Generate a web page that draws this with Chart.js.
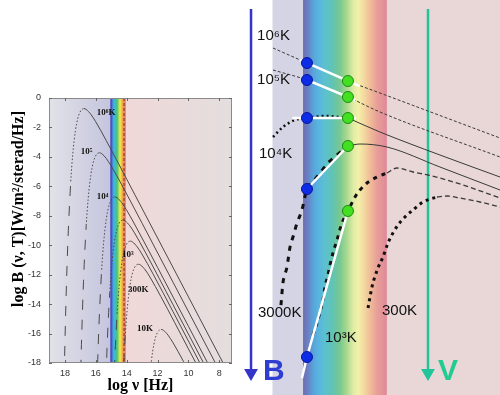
<!DOCTYPE html>
<html>
<head>
<meta charset="utf-8">
<script src="https://cdn.jsdelivr.net/npm/chart.js@4.4.1/dist/chart.umd.min.js"></script>
<style>
body { margin: 0; background: #fff; width: 500px; height: 395px; overflow: hidden; position: relative; }
canvas { position: absolute; top: 0; }
#left { left: 0; }
#right { left: 240px; }
</style>
</head>
<body>
<canvas id="left" width="240" height="395"></canvas>
<canvas id="right" width="260" height="395"></canvas>
<script>
// ---- left panel: log B vs log nu, one curve per temperature ----
var xTicks = [8, 10, 12, 14, 16, 18];
var yTicks = [0, -2, -4, -6, -8, -10, -12, -14, -16, -18];
var curveNames = ['1e6 K', '1e5 K', '1e4 K', '3000 K', '1000 K', '300 K', '10 K'];

var t1e6 = [[18.097,-21.60],[18.026,-17.90],[17.921,-13.44],[17.796,-9.47],[17.620,-5.66],[17.495,-3.86],[17.319,-2.22],[17.164,-1.38],[17.018,-0.95],[16.921,-0.80],[16.770,-0.72],[16.620,-0.78],[16.319,-1.11],[16.018,-1.59],[15.319,-2.90],[14.0,-5.51],[12.0,-9.51],[10.0,-13.51],[8.0,-17.51],[7.5,-18.51]];
var t1e5 = [[16.972,-18.46],[16.921,-16.44],[16.796,-12.47],[16.620,-8.66],[16.495,-6.86],[16.319,-5.22],[16.164,-4.38],[16.018,-3.95],[15.921,-3.80],[15.770,-3.72],[15.620,-3.78],[15.319,-4.11],[15.018,-4.59],[14.319,-5.90],[13.0,-8.51],[11.0,-12.51],[9.0,-16.51],[8.0,-18.51]];
var t1e4 = [[15.921,-19.44],[15.863,-17.44],[15.796,-15.47],[15.620,-11.66],[15.495,-9.86],[15.319,-8.22],[15.164,-7.38],[15.018,-6.95],[14.921,-6.80],[14.770,-6.72],[14.620,-6.78],[14.319,-7.11],[14.018,-7.59],[13.319,-8.90],[12.0,-11.51],[10.0,-15.51],[8.5,-18.51]];
var t3000 = [[15.340,-19.01],[15.273,-17.04],[15.194,-15.11],[15.097,-13.23],[14.972,-11.43],[14.796,-9.79],[14.641,-8.95],[14.495,-8.52],[14.398,-8.37],[14.247,-8.29],[14.097,-8.35],[13.796,-8.68],[13.495,-9.16],[12.796,-10.47],[11.0,-14.04],[9.0,-18.04]];
var t1000 = [[14.796,-18.47],[14.717,-16.54],[14.620,-14.66],[14.495,-12.86],[14.319,-11.22],[14.164,-10.38],[14.018,-9.95],[13.921,-9.80],[13.770,-9.72],[13.620,-9.78],[13.319,-10.11],[13.018,-10.59],[12.319,-11.90],[11.0,-14.51],[9.0,-18.51]];
var t300 = [[14.194,-18.11],[14.097,-16.23],[13.972,-14.43],[13.796,-12.79],[13.641,-11.95],[13.495,-11.52],[13.398,-11.37],[13.247,-11.29],[13.097,-11.35],[12.796,-11.68],[12.495,-12.16],[11.796,-13.47],[10.0,-17.04],[9.0,-19.04]];
var t10 = [[12.495,-18.86],[12.398,-17.85],[12.319,-17.22],[12.164,-16.38],[12.018,-15.95],[11.921,-15.80],[11.770,-15.72],[11.620,-15.78],[11.319,-16.11],[11.018,-16.59],[10.319,-17.90],[10.0,-18.54]];

var leftLabels = [['10⁶K', 15.93, -1.0], ['10⁵', 16.97, -3.66], ['10⁴', 15.93, -6.72], ['10³', 14.30, -10.67], ['300K', 13.91, -13.05], ['10K', 13.33, -15.64]];

// ---- right panel: magnified B / V region ----
var r1e6 = [[15.305,-2.538],[14.960,-3.487],[14.544,-4.627],[14.219,-5.386],[13.0,-8.234]];
var r1e5 = [[15.305,-3.930],[14.960,-4.563],[14.544,-5.639],[14.219,-6.589],[13.0,-9.437]];
var r1e4dot = [[15.305,-8.171],[15.204,-7.538],[15.082,-7.095],[14.960,-6.968],[14.777,-6.842],[14.544,-6.968]];
var r1e4 = [[14.544,-6.968],[14.219,-7.854],[13.610,-9.310],[13.0,-10.703]];
var r3000dot = [[15.224,-18.804],[15.204,-17.411],[15.163,-16.399],[15.132,-15.133],[15.102,-14.500],[15.061,-13.614],[15.011,-12.791],[14.960,-11.462],[14.909,-11.082],[14.828,-10.449],[14.747,-9.816],[14.655,-9.310],[14.544,-8.741]];
var r3000 = [[14.544,-8.741],[14.422,-8.614],[14.148,-8.804],[13.610,-10.070],[13.0,-11.525]];
var r1000dot = [[14.899,-20.703],[14.858,-19.943],[14.828,-19.247],[14.797,-18.487],[14.777,-17.665],[14.747,-16.905],[14.726,-16.272],[14.696,-15.513],[14.655,-14.690],[14.604,-13.614],[14.544,-12.854],[14.472,-11.968],[14.422,-11.525],[14.351,-11.082],[14.249,-10.703],[14.148,-10.449]];
var r1000 = [[14.148,-10.449],[14.046,-10.133],[13.884,-10.386],[13.731,-10.576],[13.376,-11.209],[13.0,-12.032]];
var r300dot = [[14.340,-18.994],[14.300,-17.665],[14.239,-16.462],[14.188,-15.766],[14.137,-14.880],[14.087,-14.247],[14.036,-13.741],[13.965,-13.234],[13.884,-12.791],[13.782,-12.285],[13.640,-11.968]];
var r300 = [[13.640,-11.968],[13.538,-11.905],[13.407,-12.032],[13.203,-12.285],[13.0,-12.601]];

var bandB = 14.960, bandV = 14.544;
var bValues = [-3.487, -4.563, -6.968, -11.462, -22.095];
var vValues = [-4.627, -5.639, -6.968, -8.741, -12.854];
var colourLines = [
  [[15.03,-3.295],[14.424,-4.956]],
  [[15.01,-4.434],[14.47,-5.830]],
  [[15.11,-6.968],[14.46,-6.968]],
  [[14.960,-11.462],[14.544,-8.741]],
  [[15.011,-23.424],[14.960,-22.095],[14.544,-12.854]]
];
var arrowB = [[15.528,-0.07],[15.528,-23.11]];
var arrowV = [[13.731,-0.07],[13.731,-23.11]];
var rightLabels = [['10⁶K',15.467,-1.778],['10⁵K',15.467,-4.563],['10⁴K',15.447,-9.247],['3000K',15.457,-19.31],['10³K',14.777,-20.89],['300K',14.198,-19.18]];

var sans = "'Liberation Sans', Arial, sans-serif";
var serif = "'Liberation Serif', 'Times New Roman', serif";

// left chart
var leftSets = [t1e6, t1e5, t1e4, t3000, t1000, t300, t10].map(function(d, i) {
  var peak = d.reduce(function(a, p) { return p[1] > a[1] ? p : a; });
  return {
    label: curveNames[i],
    data: d,
    showLine: true,
    pointRadius: 0,
    borderColor: '#4a4a4a',
    borderWidth: 1,
    cubicInterpolationMode: 'monotone',
    segment: {
      borderDash: function(ctx) {
        if (ctx.p1.parsed.x >= peak[0] - 1e-6) {
          return ctx.p0.parsed.y > peak[1] - 6 ? [1.5, 2] : [10, 10];
        }
        return undefined;
      }
    }
  };
});

var leftDeco = {
  id: 'leftDeco',
  beforeDatasetsDraw: function(chart) {
    var c = chart.ctx, a = chart.chartArea, x = chart.scales.x;
    var p15 = x.getPixelForValue(15), pR = x.getPixelForValue(14.05), pD = x.getPixelForValue(14.17);
    c.save();
    var g = c.createLinearGradient(a.left, 0, p15, 0);
    g.addColorStop(0, '#e2e2e8');
    g.addColorStop(1, '#c4c4de');
    c.fillStyle = g;
    c.fillRect(a.left, a.top, p15 - a.left, a.bottom - a.top);
    var r = c.createLinearGradient(p15, 0, pR, 0);
    r.addColorStop(0, '#4a7cd8');
    r.addColorStop(0.2, '#3cb8e0');
    r.addColorStop(0.4, '#50c070');
    r.addColorStop(0.6, '#eeee50');
    r.addColorStop(0.78, '#f0a048');
    r.addColorStop(1, '#ee7070');
    c.fillStyle = r;
    c.fillRect(p15, a.top, pR - p15, a.bottom - a.top);
    var k = c.createLinearGradient(pR, 0, a.right, 0);
    k.addColorStop(0, '#f0d8d8');
    k.addColorStop(1, '#e4dede');
    c.fillStyle = k;
    c.fillRect(pR, a.top, a.right - pR, a.bottom - a.top);
    c.strokeStyle = '#5050c0';
    c.lineWidth = 2;
    c.beginPath(); c.moveTo(p15, a.top); c.lineTo(p15, a.bottom); c.stroke();
    c.strokeStyle = '#7a2a2a';
    c.lineWidth = 1;
    c.setLineDash([3, 2]);
    c.beginPath(); c.moveTo(pD, a.top); c.lineTo(pD, a.bottom); c.stroke();
    c.restore();
  },
  afterDraw: function(chart) {
    var c = chart.ctx, a = chart.chartArea, x = chart.scales.x, y = chart.scales.y;
    c.save();
    c.strokeStyle = '#8a8a8a';
    c.lineWidth = 1;
    c.strokeRect(a.left + 0.5, a.top + 0.5, a.right - a.left - 1, a.bottom - a.top - 1);
    c.strokeStyle = '#666';
    c.beginPath();
    xTicks.forEach(function(v) {
      var px = Math.round(x.getPixelForValue(v)) + 0.5;
      c.moveTo(px, a.bottom); c.lineTo(px, a.bottom - 3);
      c.moveTo(px, a.top); c.lineTo(px, a.top + 3);
    });
    yTicks.forEach(function(v) {
      var py = Math.round(y.getPixelForValue(v)) + 0.5;
      c.moveTo(a.left, py); c.lineTo(a.left + 3, py);
      c.moveTo(a.right, py); c.lineTo(a.right - 3, py);
    });
    c.stroke();
    c.fillStyle = '#111';
    c.font = 'bold 9px ' + serif;
    c.textBaseline = 'middle';
    c.textAlign = 'left';
    leftLabels.forEach(function(l) {
      c.fillText(l[0], x.getPixelForValue(l[1]), y.getPixelForValue(l[2]));
    });
    c.translate(19, 209);
    c.rotate(-Math.PI / 2);
    c.textAlign = 'center';
    c.fillStyle = '#000';
    c.font = 'bold 16px ' + serif;
    c.fillText('log B (ν, T)[W/m²/sterad/Hz]', 0, 0);
    c.restore();
  }
};

new Chart(document.getElementById('left'), {
  type: 'scatter',
  data: { datasets: leftSets },
  options: {
    responsive: false,
    animation: false,
    devicePixelRatio: 1,
    layout: { padding: { top: 98, right: 8, left: 0, bottom: 0 }, autoPadding: false },
    plugins: { legend: { display: false }, tooltip: { enabled: false } },
    scales: {
      x: {
        type: 'linear', reverse: true, min: 7.18, max: 19.03,
        afterBuildTicks: function(s) { s.ticks = xTicks.map(function(v) { return { value: v }; }); },
        afterFit: function(s) { s.height = 32; },
        grid: { display: false, drawTicks: false },
        border: { display: false },
        ticks: { font: { family: sans, size: 9 }, color: '#333', padding: 5, maxRotation: 0, autoSkip: false },
        title: { display: true, text: 'log ν [Hz]', color: '#000', font: { family: serif, size: 16, weight: 'bold' }, padding: { top: 0, bottom: 0 } }
      },
      y: {
        type: 'linear', min: -18, max: 0,
        afterBuildTicks: function(s) { s.ticks = yTicks.map(function(v) { return { value: v }; }); },
        afterFit: function(s) { s.width = 49; },
        grid: { display: false, drawTicks: false },
        border: { display: false },
        ticks: { font: { family: sans, size: 9 }, color: '#333', padding: 8, autoSkip: false }
      }
    }
  },
  plugins: [leftDeco]
});

// right chart
function lineSet(d, w, dash, colour) {
  return { data: d, showLine: true, pointRadius: 0, borderColor: colour || '#3a3a3a', borderWidth: w,
    borderDash: dash, cubicInterpolationMode: 'monotone', order: 3 };
}
var rightSets = [
  lineSet(r1e6, 1, [3, 2]),
  lineSet(r1e5, 1, [3, 2]),
  lineSet(r1e4dot, 2.5, [2, 3], '#111'),
  lineSet(r1e4, 1, []),
  lineSet(r3000dot, 3, [5, 6], '#111'),
  lineSet(r3000, 1, []),
  lineSet(r1000dot, 3, [4, 5], '#111'),
  lineSet(r1000, 1.3, [5, 3]),
  lineSet(r300dot, 3, [3, 4], '#111'),
  lineSet(r300, 1.3, [5, 3])
];
colourLines.forEach(function(d) {
  rightSets.push({ data: d, showLine: true, pointRadius: 0, borderColor: '#ffffff', borderWidth: 2.5, order: 1 });
});
rightSets.push({ data: arrowB, showLine: true, borderColor: '#3434c8', backgroundColor: '#3434c8', borderWidth: 2.5,
  pointRadius: [0, 5.5], pointStyle: 'triangle', rotation: 180, order: 4 });
rightSets.push({ data: arrowV, showLine: true, borderColor: '#22c49c', backgroundColor: '#22c49c', borderWidth: 2.5,
  pointRadius: [0, 5.5], pointStyle: 'triangle', rotation: 180, order: 4 });
rightSets.push({ data: bValues.map(function(v) { return [bandB, v]; }), pointRadius: 5.5,
  backgroundColor: '#0c2ce6', borderColor: '#06169a', borderWidth: 1, order: 0 });
rightSets.push({ data: vValues.map(function(v) { return [bandV, v]; }), pointRadius: 5.5,
  backgroundColor: '#42e020', borderColor: '#1d8a12', borderWidth: 1, order: 0 });

var rightDeco = {
  id: 'rightDeco',
  beforeDatasetsDraw: function(chart) {
    var c = chart.ctx, a = chart.chartArea, x = chart.scales.x;
    var pL = x.getPixelForValue(15.31), p15 = x.getPixelForValue(15), pR = x.getPixelForValue(14.148);
    c.save();
    c.fillStyle = '#d4d4e5';
    c.fillRect(pL, a.top, p15 - pL, a.bottom - a.top);
    var r = c.createLinearGradient(p15, 0, pR, 0);
    var stops = [[0, '#6d6fae'], [0.06, '#6a80c4'], [0.11, '#5a9fd8'], [0.18, '#58b4e0'], [0.26, '#5cc0d0'],
      [0.36, '#62c4b0'], [0.44, '#78c890'], [0.52, '#a8d890'], [0.6, '#e0eca4'], [0.66, '#f4f0aa'],
      [0.73, '#f4d8a0'], [0.8, '#f0bc98'], [0.88, '#e8a098'], [1, '#e08898']];
    stops.forEach(function(s) { r.addColorStop(s[0], s[1]); });
    c.fillStyle = r;
    c.fillRect(p15, a.top, pR - p15, a.bottom - a.top);
    c.fillStyle = '#e9d6d6';
    c.fillRect(pR, a.top, a.right - pR, a.bottom - a.top);
    c.restore();
  },
  afterDraw: function(chart) {
    var c = chart.ctx, x = chart.scales.x, y = chart.scales.y;
    c.save();
    c.textBaseline = 'middle';
    c.textAlign = 'left';
    c.fillStyle = '#111';
    c.font = '15px ' + sans;
    rightLabels.forEach(function(l) {
      c.fillText(l[0], x.getPixelForValue(l[1]), y.getPixelForValue(l[2]));
    });
    c.font = 'bold 30px ' + sans;
    c.fillStyle = '#2e3ed2';
    c.fillText('B', x.getPixelForValue(15.406), y.getPixelForValue(-23.04));
    c.fillStyle = '#20cc92';
    c.fillText('V', x.getPixelForValue(13.630), y.getPixelForValue(-23.04));
    c.restore();
  }
};

new Chart(document.getElementById('right'), {
  type: 'scatter',
  data: { datasets: rightSets },
  options: {
    responsive: false,
    animation: false,
    devicePixelRatio: 1,
    layout: { padding: 0, autoPadding: false },
    plugins: { legend: { display: false }, tooltip: { enabled: false } },
    scales: {
      x: { type: 'linear', reverse: true, min: 13.0, max: 15.64, display: false },
      y: { type: 'linear', min: -24.5, max: 0.5, display: false }
    }
  },
  plugins: [rightDeco]
});
</script>
</body>
</html>
